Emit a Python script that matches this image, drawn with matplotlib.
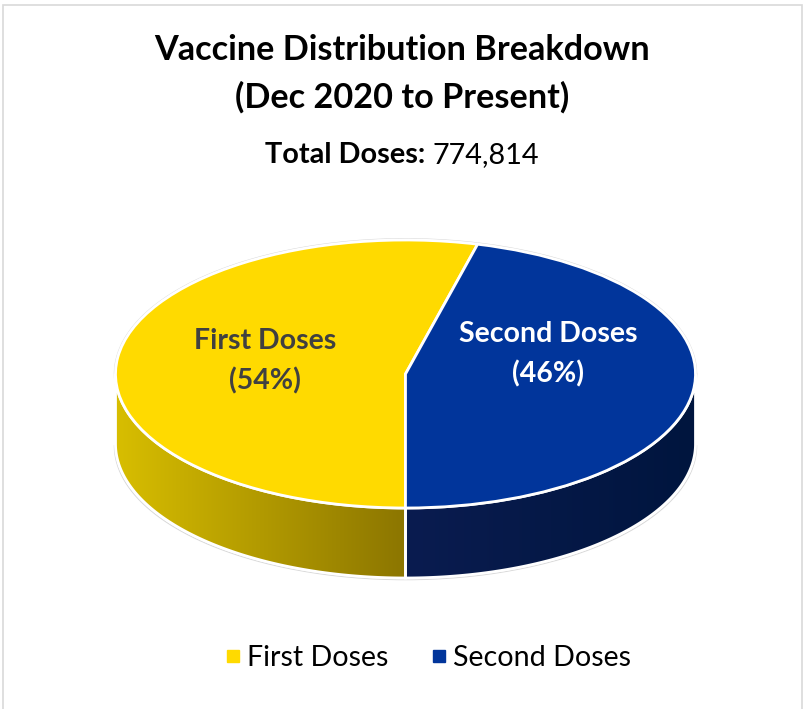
import numpy as np
import matplotlib
matplotlib.use("Agg")
import matplotlib.pyplot as plt
from matplotlib.transforms import Affine2D
from matplotlib.patches import Polygon, Rectangle
from matplotlib.colors import LinearSegmentedColormap

# ---- data ----
categories = ["First Doses", "Second Doses"]
shares = [54, 46]
total_doses = "774,814"
title_lines = ["Vaccine Distribution Breakdown", "(Dec 2020 to Present)"]

top_colors = ["#FFDA00", "#01359B"]
side_colors = [("#D8BE00", "#8C7600"), ("#0A1C50", "#00153E")]
label_colors = ["#404040", "#FFFFFF"]

FONT = "Lato"

W, H = 804, 709
fig = plt.figure(figsize=(W / 100, H / 100), dpi=100)
ax = fig.add_axes([0, 0, 1, 1])

# geometry (pie units: radius 1 = 290 px)
px = 290.0
cx_px, cy_px = 405.5, 374.0
b = 134.0 / px      # vertical squash of the top face
d = 70.0 / px       # depth of the side wall

# top face using library pie
wedges, _ = ax.pie(shares, colors=top_colors, startangle=270, counterclock=False,
                   radius=1.0, center=(0, 0),
                   wedgeprops=dict(edgecolor="white", linewidth=2.0))
squash = Affine2D().scale(1, b) + ax.transData
for w in wedges:
    w.set_transform(squash)
    w.set_zorder(5)

# side walls (visible front half: 180..360 degrees, equivalently -180..0)
for i, w in enumerate(wedges):
    a1, a2 = min(w.theta1, w.theta2), max(w.theta1, w.theta2)
    pieces = []
    for off in (-360, 0, 360):
        lo = max(a1 + off, 180)
        hi = min(a2 + off, 360)
        if hi > lo + 1e-6:
            pieces.append((lo, hi))
    for lo, hi in pieces:
        t = np.radians(np.linspace(lo, hi, 200))
        xs = np.cos(t)
        ys = b * np.sin(t)
        verts = np.vstack([np.column_stack([xs, ys]),
                           np.column_stack([xs[::-1], ys[::-1] - d])])
        poly = Polygon(verts, closed=True, facecolor="none", edgecolor="white",
                       linewidth=2.0, zorder=3)
        ax.add_patch(poly)
        cmap = LinearSegmentedColormap.from_list("g%d" % i, side_colors[i])
        grad = np.linspace(0, 1, 256).reshape(1, -1)
        im = ax.imshow(grad, cmap=cmap, aspect="auto",
                       extent=[xs.min(), xs.max(), ys.min() - d, ys.max()],
                       zorder=2, interpolation="bilinear")
        im.set_clip_path(poly)

# faint outer outline
t = np.radians(np.linspace(0, 360, 400))
ax.plot(np.cos(t) * 1.004, b * np.sin(t) * 1.01, color="#D9D9D9", lw=0.8, zorder=1)
tb = np.radians(np.linspace(180, 360, 200))
ax.plot(np.cos(tb) * 1.004, b * np.sin(tb) - d - 0.006, color="#D9D9D9", lw=0.8, zorder=1)

# limits: 1 unit = 290 px
ax.set_xlim(-cx_px / px, (W - cx_px) / px)
ax.set_ylim((cy_px - H) / px, cy_px / px)
ax.set_aspect("auto")
ax.axis("off")

# slice labels
label_pos_px = [(265, 361), (548, 354)]
for i, (lx, ly) in enumerate(label_pos_px):
    fig.text(lx / W, 1 - ly / H, "%s\n(%d%%)" % (categories[i], shares[i]),
             ha="center", va="center", fontsize=20.5, fontweight="bold",
             color=label_colors[i], family=FONT, linespacing=1.6, zorder=10)

# titles
fig.text(0.5, 1 - 50 / H, title_lines[0], ha="center", va="center",
         fontsize=24.7, fontweight="bold", family=FONT)
fig.text(0.5, 1 - 97 / H, title_lines[1], ha="center", va="center",
         fontsize=24.7, fontweight="bold", family=FONT)
t1 = fig.text(0.5, 1 - 155 / H, "Total Doses: ", ha="right", va="center",
              fontsize=20.8, fontweight="bold", family=FONT)
t2 = fig.text(0.5, 1 - 155 / H, total_doses, ha="left", va="center",
              fontsize=20.8, family=FONT)
fig.canvas.draw()
r = fig.canvas.get_renderer()
w1 = t1.get_window_extent(r).width
w2 = t2.get_window_extent(r).width
shift = (w1 - w2) / 2 / W
t1.set_x(0.5 + shift)
t2.set_x(0.5 + shift)

# legend
handles = [plt.Line2D([], [], marker="s", linestyle="", markersize=8.5,
                      markerfacecolor=c, markeredgecolor=c) for c in top_colors]
fig.legend(handles, categories, loc="center", bbox_to_anchor=(427 / W, 1 - 658 / H),
           ncol=2, frameon=False, handletextpad=0.15, columnspacing=1.4,
           prop=dict(family=FONT, size=20.6), handlelength=0.7)

# frame
fig.patches.append(Rectangle((3 / W, -0.01), 799.5 / W, 1 - 5 / H + 0.01,
                             transform=fig.transFigure, fill=False,
                             edgecolor="#D9D9D9", linewidth=1.2))

fig.savefig("out.png", dpi=100, facecolor="white")
